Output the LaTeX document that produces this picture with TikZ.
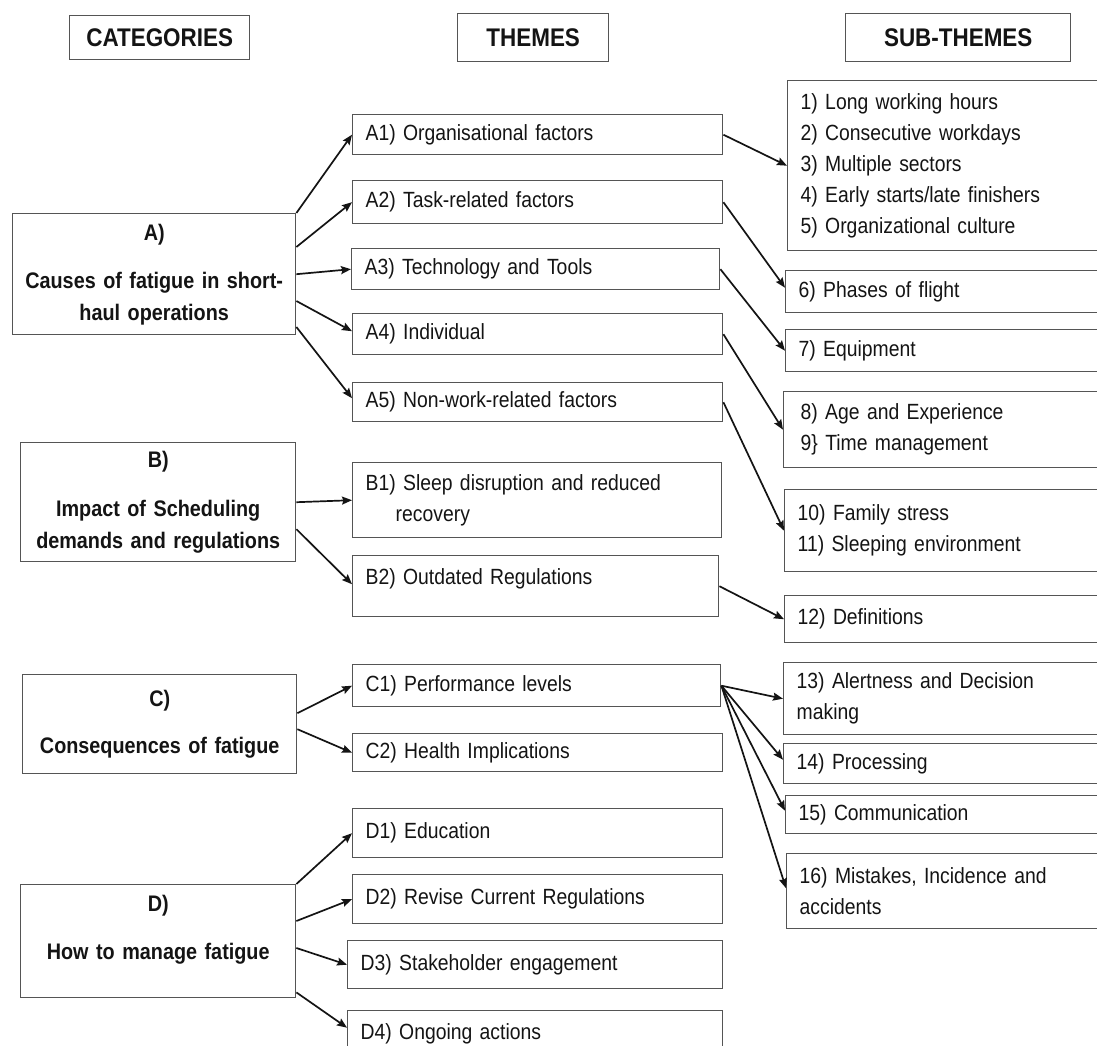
\documentclass[tikz,border=0pt]{standalone}
\usepackage{fontspec}
\setmainfont{Liberation Sans}[FakeStretch=0.88]
\usetikzlibrary{arrows.meta,calc}

\definecolor{edge}{HTML}{555555}
\definecolor{ink}{HTML}{141414}

\tikzset{
  frame/.style={draw=edge, line width=1.4pt, inner ysep=0pt, text=ink},
  header/.style={frame, align=center, inner xsep=0pt,
    font=\fontsize{25.5}{30}\selectfont\bfseries},
  category/.style={frame, align=center, inner xsep=5pt,
    font=\fontsize{22.5}{32}\selectfont\bfseries},
  theme/.style={frame, align=left, inner xsep=13pt,
    font=\fontsize{22}{31}\selectfont},
  link/.style={draw=ink, line width=1.7pt,
    -{Stealth[length=10pt,width=8pt,inset=1.5pt]}},
}

% box from its top-left (#4,#5) to bottom-right (#6,#7) corner;
% #1 style, #2 horizontal padding taken from the text width, #3 name, #8 text
\newcommand\drawcell[8]{%
  \pgfmathsetmacro\cellw{#6-#4}%
  \pgfmathsetmacro\cellh{#7-#5}%
  \pgfmathsetmacro\celltw{#6-#4-#2}%
  \node[#1, anchor=north west, minimum width=\cellw pt,
        minimum height=\cellh pt, text width=\celltw pt] (#3) at (#4,#5) {#8};%
}

\begin{document}
\begin{tikzpicture}[x=1pt,y=-1pt]
\useasboundingbox (0,0) rectangle (1097,1046);
\fill[white] (0,0) rectangle (1097,1046);
\clip (0,0) rectangle (1097,1046);

% column headers
\drawcell{header}{0}{H1}{69}{15}{249}{59}{CATEGORIES}
\drawcell{header}{0}{H2}{457}{13}{608}{61}{THEMES}
\drawcell{header}{0}{H3}{845}{13}{1070}{61}{SUB-THEMES}

% categories
\drawcell{category}{10}{A}{12}{213}{295}{334}{A)\\[16pt]Causes of fatigue in short-\\haul operations}
\drawcell{category}{10}{B}{20}{442}{295}{561}{B)\\[17pt]Impact of Scheduling\\demands and regulations}
\drawcell{category}{10}{C}{22}{674}{296}{773}{C)\\[15pt]Consequences of fatigue}
\drawcell{category}{10}{D}{20}{884}{295}{997}{D)\\[16pt]How to manage fatigue\rule[-27pt]{0pt}{27pt}}

% themes
\drawcell{theme}{26}{A1}{352}{114}{722}{154}{A1) Organisational factors}
\drawcell{theme}{26}{A2}{352}{180}{722}{223}{A2) Task-related factors}
\drawcell{theme}{26}{A3}{351}{248}{719}{289}{A3) Technology and Tools}
\drawcell{theme}{26}{A4}{352}{313}{722}{354}{A4) Individual}
\drawcell{theme}{26}{A5}{352}{382}{722}{421}{A5) Non-work-related factors}
\drawcell{theme}{26}{B1}{352}{462}{721}{537}{B1) Sleep disruption and reduced\\\hspace*{30pt}recovery}
\drawcell{theme}{26}{B2}{352}{555}{718}{616}{B2) Outdated Regulations\rule[-20pt]{0pt}{20pt}}
\drawcell{theme}{26}{C1}{352}{664}{720}{706}{C1) Performance levels}
\drawcell{theme}{26}{C2}{352}{733}{722}{771}{C2) Health Implications}
\drawcell{theme}{26}{D1}{352}{808}{722}{857}{D1) Education}
\drawcell{theme}{26}{D2}{352}{874}{722}{923}{D2) Revise Current Regulations}
\drawcell{theme}{26}{D3}{347}{940}{722}{988}{D3) Stakeholder engagement}
\drawcell{theme}{26}{D4}{347}{1010}{722}{1056}{D4) Ongoing actions}

% sub-themes
\drawcell{theme}{10}{S1}{787}{80}{1110}{250}{1) Long working hours\\2) Consecutive workdays\\3) Multiple sectors\\4) Early starts/late finishers\\5) Organizational culture}
\drawcell{theme}{10}{S2}{785}{270}{1110}{312}{6) Phases of flight}
\drawcell{theme}{10}{S3}{785}{329}{1110}{371}{7) Equipment}
\drawcell{theme}{10}{S4}{783}{391}{1110}{467}{\hspace*{4pt}8) Age and Experience\\\hspace*{4pt}9\} Time management}
\drawcell{theme}{10}{S5}{784}{489}{1110}{571}{10) Family stress\\11) Sleeping environment}
\drawcell{theme}{10}{S12}{784}{595}{1110}{642}{12) Definitions}
\drawcell{theme}{10}{S13}{783}{662}{1110}{734}{13) Alertness and Decision\\making}
\drawcell{theme}{10}{S14}{783}{743}{1110}{783}{14) Processing}
\drawcell{theme}{10}{S15}{785}{795}{1110}{833}{15) Communication}
\drawcell{theme}{10}{S16}{786}{853}{1110}{928}{16) Mistakes, Incidence and\\accidents}

% categories to themes
\draw[link] (A.north east) -- (A1.west);
\draw[link] ($(A.north east)+(0,34)$) -- (A2.west);
\draw[link] (A.east) -- (A3.west);
\draw[link] ($(A.north east)+(0,88)$) -- ($(A4.west)+(0,-3)$);
\draw[link] ($(A.north east)+(0,114)$) -- ($(A5.west)+(0,-4)$);
\draw[link] (B.east) -- (B1.west);
\draw[link] ($(B.east)+(0,27)$) -- ($(B2.west)+(0,-2)$);
\draw[link] ($(C.east)+(0,-11)$) -- (C1.west);
\draw[link] ($(C.east)+(0,5)$) -- (C2.west);
\draw[link] (D.north east) -- (D1.west);
\draw[link] ($(D.north east)+(0,37)$) -- (D2.west);
\draw[link] ($(D.north east)+(0,64)$) -- (D3.west);
\draw[link] ($(D.south east)+(0,-6)$) -- ($(D4.west)+(0,-6)$);

% themes to sub-themes
\draw[link] (A1.east) -- (S1.west);
\draw[link] (A2.east) -- ($(S2.west)+(0,-4)$);
\draw[link] (A3.east) -- (S3.west);
\draw[link] (A4.east) -- (S4.west);
\draw[link] (A5.east) -- (S5.west);
\draw[link] (B2.east) -- (S12.west);
\draw[link] (C1.east) -- (S13.west);
\draw[link] (C1.east) -- ($(S14.west)+(0,-4)$);
\draw[link] (C1.east) -- ($(S15.west)+(0,-4)$);
\draw[link] (C1.east) -- ($(S16.west)+(0,-3)$);
\end{tikzpicture}
\end{document}
